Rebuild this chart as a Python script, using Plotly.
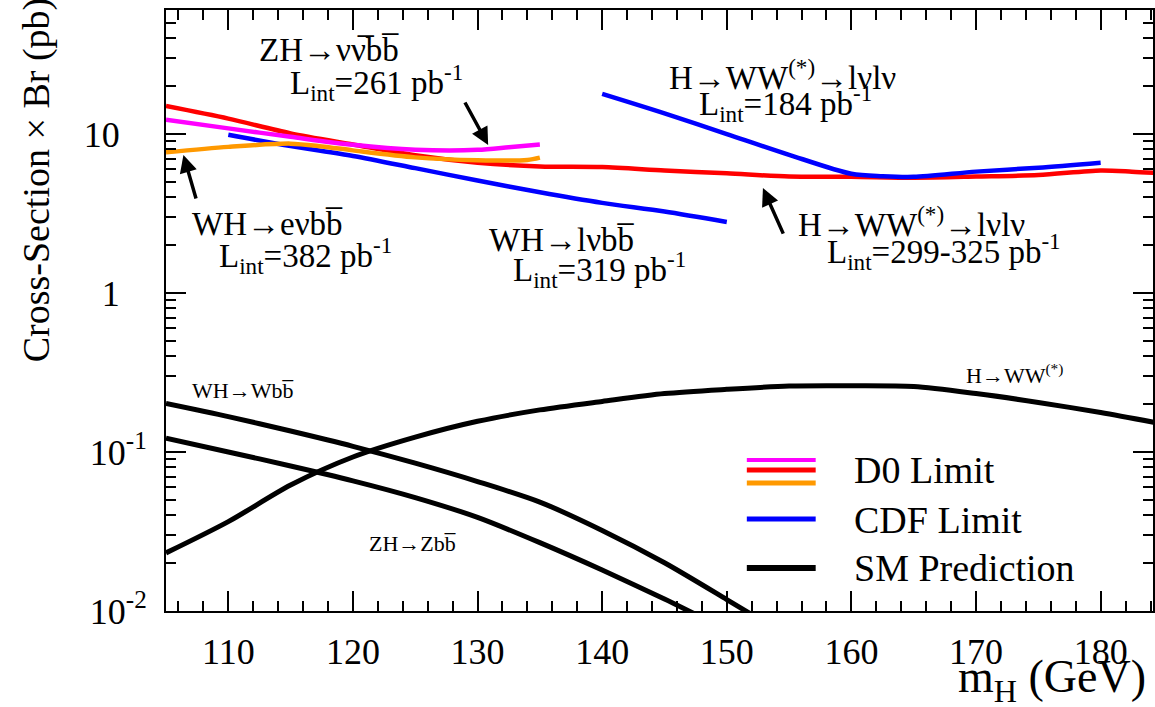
import math
import plotly.graph_objects as go

# ---------------- data ----------------
# D0 H->WW(*)->lvlv limit (L = 299-325 pb^-1)
d0_ww_mass = [105, 110, 115, 120, 125, 130, 135, 140, 145, 150, 155, 160, 165, 170, 175, 180, 182.5, 185]
d0_ww_limit = [15.0, 12.5, 10.1, 8.6, 7.35, 6.6, 6.25, 6.2, 5.9, 5.66, 5.4, 5.38, 5.31, 5.4, 5.52, 5.9, 5.8, 5.65]

# D0 ZH->vvbb limit (L = 261 pb^-1)
d0_zh_mass = [105, 110, 115, 120, 125, 130, 132.5, 135]
d0_zh_limit = [12.3, 10.85, 9.6, 8.55, 7.97, 7.95, 8.25, 8.6]

# D0 WH->evbb limit (L = 382 pb^-1)
d0_wh_mass = [105, 110, 115, 117.5, 120, 125, 130, 134, 135]
d0_wh_limit = [7.67, 8.3, 8.7, 8.35, 7.89, 7.13, 6.84, 6.86, 7.1]

# CDF WH->lvbb limit (L = 319 pb^-1)
cdf_wh_mass = [110, 115, 120, 125, 130, 135, 140, 145, 150]
cdf_wh_limit = [9.9, 8.4, 7.28, 6.1, 5.1, 4.3, 3.69, 3.26, 2.8]

# CDF H->WW(*)->lvlv limit (L = 184 pb^-1)
cdf_ww_mass = [140, 145, 150, 155, 160, 162.5, 165, 170, 175, 180]
cdf_ww_limit = [17.9, 13.5, 10.0, 7.4, 5.62, 5.43, 5.38, 5.8, 6.14, 6.6]

# Standard Model predictions
sm_ww_mass = [105, 110, 115, 120, 125, 130, 135, 140, 145, 150, 155, 160, 165, 170, 175, 180, 185]
sm_ww_xsec = [0.0232, 0.0365, 0.062, 0.093, 0.124, 0.156, 0.184, 0.208, 0.233, 0.248, 0.26, 0.261, 0.258, 0.233, 0.205, 0.177, 0.15]

sm_wh_mass = [105, 110, 115, 120, 125, 130, 135, 140, 145, 150, 152]
sm_wh_xsec = [0.202, 0.167, 0.1355, 0.1086, 0.0851, 0.0652, 0.0484, 0.0321, 0.0201, 0.0118, 0.0095]

sm_zh_mass = [105, 110, 115, 120, 125, 130, 135, 140, 145, 148]
sm_zh_xsec = [0.122, 0.100, 0.0817, 0.0659, 0.0517, 0.0388, 0.0269, 0.0181, 0.0119, 0.0091]

x_tick_vals = [110, 120, 130, 140, 150, 160, 170, 180]
y_tick_vals = [0.01, 0.1, 1, 10]
y_tick_text = ["10<sup>-2</sup>", "10<sup>-1</sup>", "1\u00a0\u00a0\u00a0", "10\u00a0\u00a0\u00a0"]

# ---------------- styling ----------------
FONT = "Liberation Serif"
MAGENTA = "#ff00ff"
RED = "#ff0000"
ORANGE = "#ff9900"
BLUE = "#0000ff"
BLACK = "#000000"

W, H = 1155, 707
ML, MR, MT, MB = 166, 0, 10, 96
PW, PH = W - ML - MR, H - MT - MB
X_RANGE = [105, 184.2]
Y_RANGE = [-2, 1.78]


def paper(px, py):
    """Pixel position on the canvas -> paper coordinates."""
    return (px - ML) / PW, (H - MB - py) / PH


fig = go.Figure()


def add_line(x, y, color, width):
    fig.add_trace(go.Scatter(x=x, y=y, mode="lines",
                             line=dict(color=color, width=width, shape="spline", smoothing=0.8),
                             showlegend=False, hoverinfo="skip"))


add_line(sm_ww_mass, sm_ww_xsec, BLACK, 5)
add_line(sm_wh_mass, sm_wh_xsec, BLACK, 5)
add_line(sm_zh_mass, sm_zh_xsec, BLACK, 5)
add_line(cdf_wh_mass, cdf_wh_limit, BLUE, 4.5)
add_line(d0_ww_mass, d0_ww_limit, RED, 4.5)
add_line(d0_zh_mass, d0_zh_limit, MAGENTA, 4.5)
add_line(d0_wh_mass, d0_wh_limit, ORANGE, 4.5)
add_line(cdf_ww_mass, cdf_ww_limit, BLUE, 4.5)

# invisible companion trace so the top/right tick axes are rendered
fig.add_trace(go.Scatter(x=sm_ww_mass, y=sm_ww_xsec, xaxis="x2", yaxis="y2", mode="lines",
                         opacity=0, showlegend=False, hoverinfo="skip"))

annotations = []


def label(text, px, py, size=33, anchor="left"):
    fx, fy = paper(px, py)
    annotations.append(dict(text=text, x=fx, y=fy, xref="paper", yref="paper",
                            xanchor=anchor, yanchor="middle", showarrow=False,
                            font=dict(family=FONT, size=size, color=BLACK)))


def arrow(mass, value, dx, dy):
    annotations.append(dict(text="", x=mass, y=math.log10(value), xref="x", yref="y",
                            ax=dx, ay=dy, showarrow=True, arrowhead=2, arrowsize=1,
                            arrowwidth=3.5, arrowcolor=BLACK, standoff=0))


BAR = "\u0305"
# channel labels
label("ZH\u2192\u03bd\u03bd" + BAR + "bb" + BAR, 257, 50)
label("L<sub>int</sub>=261 pb<sup>-1</sup>", 288, 82)
label("WH\u2192e\u03bdbb" + BAR, 190, 224)
label("L<sub>int</sub>=382 pb<sup>-1</sup>", 217, 256)
label("WH\u2192l\u03bdbb" + BAR, 488, 240)
label("L<sub>int</sub>=319 pb<sup>-1</sup>", 512, 270)
label("H\u2192WW<sup>(*)</sup>\u2192l\u03bdl\u03bd", 668, 75)
label("L<sub>int</sub>=184 pb<sup>-1</sup>", 698, 104)
label("H\u2192WW<sup>(*)</sup>\u2192l\u03bdl\u03bd", 797, 222)
label("L<sub>int</sub>=299-325 pb<sup>-1</sup>", 826, 252)
label("WH\u2192Wbb" + BAR, 190, 390, size=22)
label("ZH\u2192Zbb" + BAR, 367, 543, size=22)
label("H\u2192WW<sup>(*)</sup>", 966, 374, size=22)

# arrows pointing at the curves
arrow(130.85, 8.53, -24, -44)
arrow(106.4, 7.38, 13, 45)
arrow(152.9, 4.57, 21, 47)

# axis titles
fx, fy = paper(37, 180)
annotations.append(dict(text="Cross-Section \u00d7 Br (pb)", x=fx, y=fy, xref="paper",
                        yref="paper", textangle=-90, showarrow=False,
                        xanchor="center", yanchor="middle",
                        font=dict(family=FONT, size=38, color=BLACK)))
label("m<sub>H</sub> (GeV)", 958, 680, size=46)

# legend
shapes = []
legend_rows = [(MAGENTA, 460, 4), (RED, 470, 5), (ORANGE, 483, 5), (BLUE, 519, 5), (BLACK, 568, 6)]
for color, py, w in legend_rows:
    x0, y0 = paper(748, py)
    x1, _ = paper(817, py)
    shapes.append(dict(type="line", xref="paper", yref="paper", x0=x0, x1=x1, y0=y0, y1=y0,
                       line=dict(color=color, width=w)))
label("D0 Limit", 853, 470, size=38)
label("CDF Limit", 853, 520, size=38)
label("SM Prediction", 853, 568, size=38)

tick_style = dict(ticks="inside", ticklen=20, tickwidth=1.5, tickcolor=BLACK,
                  showgrid=False, zeroline=False,
                  tickfont=dict(family=FONT, size=36, color=BLACK))

minor_x = [v for v in range(106, 185, 2) if v % 10 != 0]
minor_y = [m * 10 ** e for e in (-2, -1, 0, 1) for m in range(2, 10)]
minor_style = dict(ticks="inside", ticklen=10, tickwidth=1.5, tickcolor=BLACK, showgrid=False)

fig.update_layout(
    width=W, height=H, autosize=False,
    margin=dict(l=ML, r=MR, t=MT, b=MB, pad=0),
    paper_bgcolor="white", plot_bgcolor="white",
    xaxis=dict(range=X_RANGE, tickvals=x_tick_vals, ticklabelstandoff=8,
               showline=True, linecolor=BLACK, linewidth=2, mirror=True,
               minor=dict(tickvals=minor_x, **minor_style), **tick_style),
    yaxis=dict(type="log", range=Y_RANGE, tickvals=y_tick_vals, ticktext=y_tick_text,
               ticklabelstandoff=10,
               showline=True, linecolor=BLACK, linewidth=2, mirror=True,
               minor=dict(tickvals=minor_y, **minor_style), **tick_style),
    xaxis2=dict(overlaying="x", side="top", anchor="y2", range=X_RANGE, matches="x",
                tickvals=x_tick_vals, showticklabels=False, showline=False,
                minor=dict(tickvals=minor_x, **minor_style), **tick_style),
    yaxis2=dict(overlaying="y", side="right", anchor="x2", type="log", range=Y_RANGE,
                matches="y", tickvals=y_tick_vals, showticklabels=False, showline=False,
                minor=dict(tickvals=minor_y, **minor_style), **tick_style),
    annotations=annotations,
    shapes=shapes,
    showlegend=False,
)

fig.write_html("out.html")
